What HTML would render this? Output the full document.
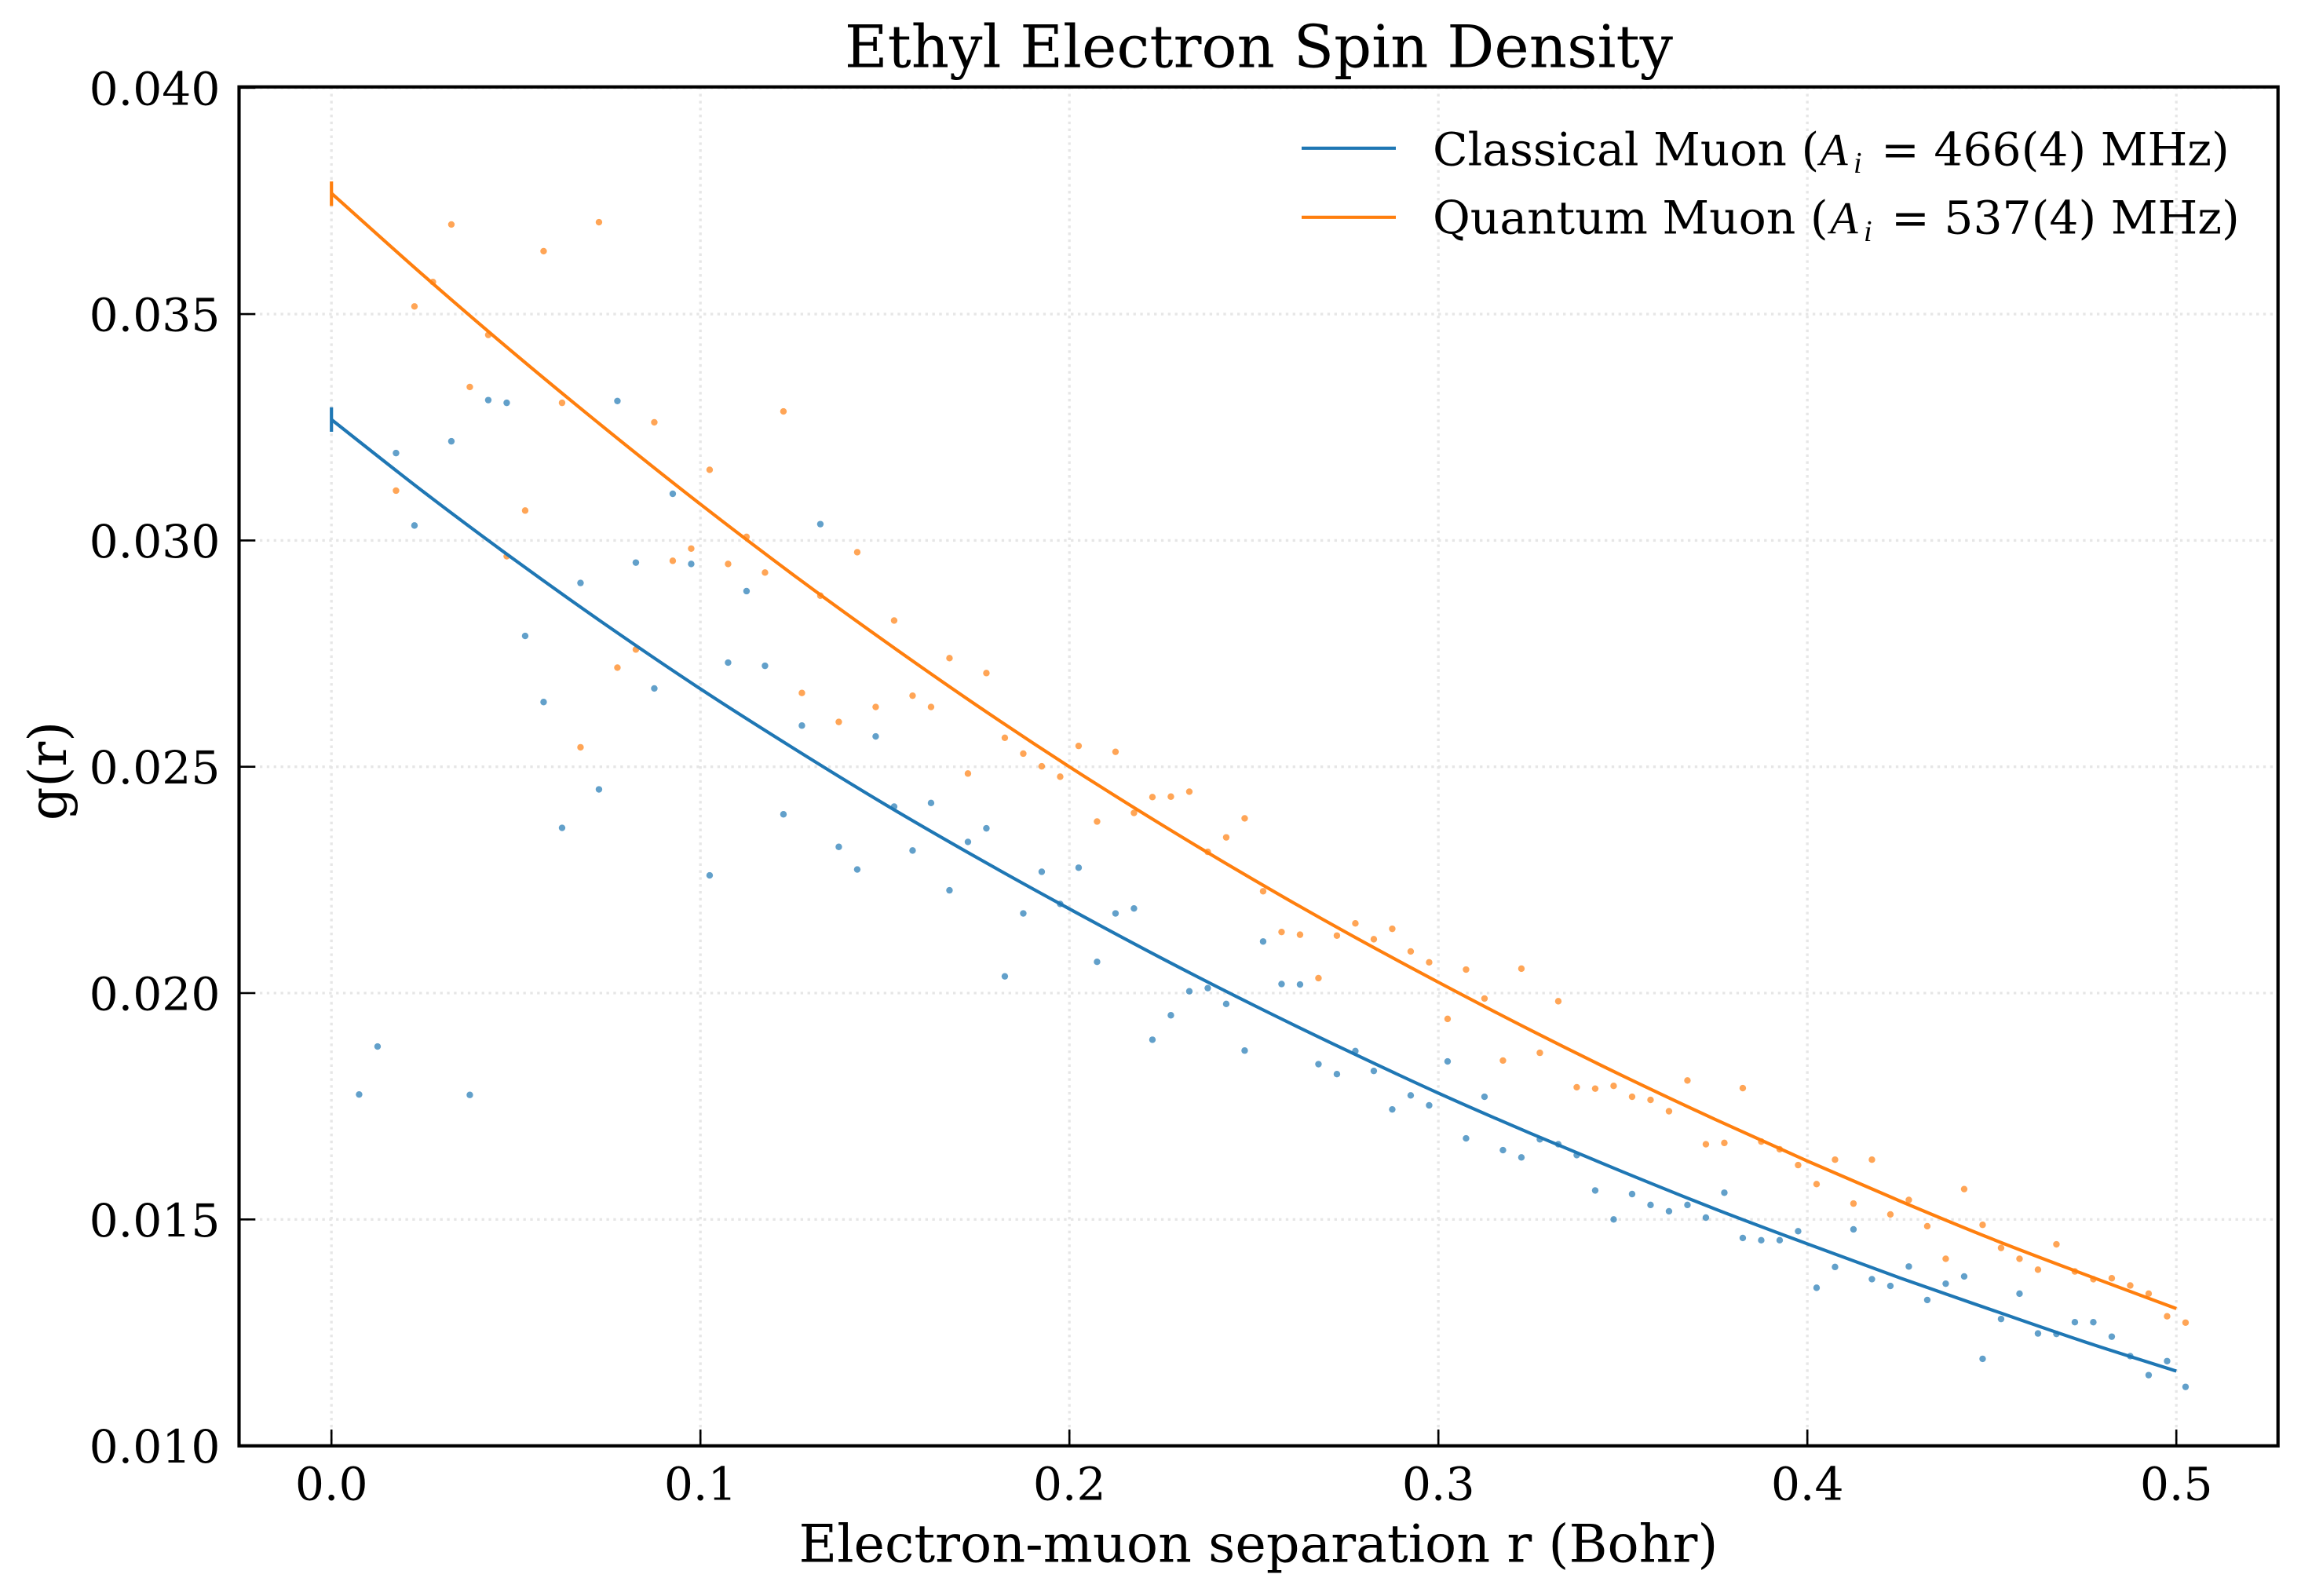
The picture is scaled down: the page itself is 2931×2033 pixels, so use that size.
<!DOCTYPE html>
<html lang="en">
<head>
<meta charset="utf-8">
<title>Ethyl Electron Spin Density</title>
<style>
html,body{margin:0;padding:0;background:#fff;}
svg{display:block;}
text{font-family:"DejaVu Serif","Liberation Serif",serif;fill:#000;}
.math{font-family:"Liberation Serif","DejaVu Serif",serif;font-style:italic;}
</style>
</head>
<body>
<svg id="chart" xmlns="http://www.w3.org/2000/svg" width="2931" height="2033" viewBox="0 0 2931 2033">
  <rect x="0" y="0" width="2931" height="2033" fill="#ffffff"/>
  <g id="grid"></g>
  <g id="points"></g>
  <g id="curves"></g>
  <g id="ticks"></g>
  <rect x="304.5" y="110.7" width="2597.2" height="1731" fill="none" stroke="#000" stroke-width="4.17"/>
  <text x="1603.5" y="85.7" font-size="75" text-anchor="middle">Ethyl Electron Spin Density</text>
  <text x="1603" y="1989.3" font-size="66.7" text-anchor="middle">Electron-muon separation r (Bohr)</text>
  <text transform="translate(84,982) rotate(-90)" font-size="66.7" text-anchor="middle">g(r)</text>
  <g>
    <g>
      <line x1="1658" x2="1778" y1="188.8" y2="188.8" stroke="#1f77b4" stroke-width="4.17"/>
      <text y="210.7" font-size="58.3"><tspan x="1825">Classical Muon (</tspan><tspan class="math" x="2318">A</tspan><tspan class="math" x="2361" y="220" font-size="38">i</tspan><tspan x="2396" y="210.7">= 466(4) MHz)</tspan></text>
    </g>
    <g>
      <line x1="1658" x2="1778" y1="276.8" y2="276.8" stroke="#ff7f0e" stroke-width="4.17"/>
      <text y="297.7" font-size="58.3"><tspan x="1825">Quantum Muon (</tspan><tspan class="math" x="2331">A</tspan><tspan class="math" x="2374" y="307" font-size="38">i</tspan><tspan x="2409" y="297.7">= 537(4) MHz)</tspan></text>
    </g>
  </g>
</svg>
<script>
var xTickValues = [0.0, 0.1, 0.2, 0.3, 0.4, 0.5];
var xTickLabels = ["0.0", "0.1", "0.2", "0.3", "0.4", "0.5"];
var yTickValues = [0.010, 0.015, 0.020, 0.025, 0.030, 0.035, 0.040];
var yTickLabels = ["0.010", "0.015", "0.020", "0.025", "0.030", "0.035", "0.040"];

var classicalR = [0.0075,0.0125,0.0175,0.0225,0.0325,0.0375,0.0425,0.0475,0.0525,0.0575,0.0625,0.0675,0.0725,0.0775,0.0825,0.0875,0.0925,0.0975,0.1025,0.1075,0.1125,0.1175,0.1225,0.1275,0.1325,0.1375,0.1425,0.1475,0.1525,0.1575,0.1625,0.1675,0.1725,0.1775,0.1825,0.1875,0.1925,0.1975,0.2025,0.2075,0.2125,0.2175,0.2225,0.2275,0.2325,0.2375,0.2425,0.2475,0.2525,0.2575,0.2625,0.2675,0.2725,0.2775,0.2825,0.2875,0.2925,0.2975,0.3025,0.3075,0.3125,0.3175,0.3225,0.3275,0.3325,0.3375,0.3425,0.3475,0.3525,0.3575,0.3625,0.3675,0.3725,0.3775,0.3825,0.3875,0.3925,0.3975,0.4025,0.4075,0.4125,0.4175,0.4225,0.4275,0.4325,0.4375,0.4425,0.4475,0.4525,0.4575,0.4625,0.4675,0.4725,0.4775,0.4825,0.4875,0.4925,0.4975,0.5025];
var classicalG = [0.01776,0.01882,0.03193,0.03033,0.03219,0.01775,0.03310,0.03304,0.02789,0.02643,0.02365,0.02906,0.02450,0.03308,0.02951,0.02673,0.03103,0.02948,0.02260,0.02730,0.02888,0.02723,0.02395,0.02591,0.03036,0.02323,0.02273,0.02567,0.02412,0.02315,0.02420,0.02227,0.02334,0.02364,0.02037,0.02176,0.02268,0.02197,0.02277,0.02069,0.02176,0.02187,0.01897,0.01951,0.02004,0.02011,0.01976,0.01873,0.02114,0.02020,0.02019,0.01843,0.01821,0.01872,0.01828,0.01743,0.01774,0.01752,0.01849,0.01679,0.01771,0.01653,0.01637,0.01677,0.01666,0.01642,0.01564,0.01500,0.01556,0.01532,0.01518,0.01532,0.01504,0.01559,0.01459,0.01454,0.01454,0.01474,0.01349,0.01395,0.01478,0.01368,0.01353,0.01396,0.01322,0.01358,0.01374,0.01192,0.01280,0.01336,0.01248,0.01247,0.01273,0.01273,0.01241,0.01198,0.01156,0.01187,0.01130];

var quantumR = [0.0175,0.0225,0.0275,0.0325,0.0375,0.0425,0.0475,0.0525,0.0575,0.0625,0.0675,0.0725,0.0775,0.0825,0.0875,0.0925,0.0975,0.1025,0.1075,0.1125,0.1175,0.1225,0.1275,0.1325,0.1375,0.1425,0.1475,0.1525,0.1575,0.1625,0.1675,0.1725,0.1775,0.1825,0.1875,0.1925,0.1975,0.2025,0.2075,0.2125,0.2175,0.2225,0.2275,0.2325,0.2375,0.2425,0.2475,0.2525,0.2575,0.2625,0.2675,0.2725,0.2775,0.2825,0.2875,0.2925,0.2975,0.3025,0.3075,0.3125,0.3175,0.3225,0.3275,0.3325,0.3375,0.3425,0.3475,0.3525,0.3575,0.3625,0.3675,0.3725,0.3775,0.3825,0.3875,0.3925,0.3975,0.4025,0.4075,0.4125,0.4175,0.4225,0.4275,0.4325,0.4375,0.4425,0.4475,0.4525,0.4575,0.4625,0.4675,0.4725,0.4775,0.4825,0.4875,0.4925,0.4975,0.5025];
var quantumG = [0.03110,0.03517,0.03571,0.03698,0.03339,0.03454,0.02965,0.03066,0.03639,0.03304,0.02543,0.03703,0.02719,0.02759,0.03261,0.02955,0.02982,0.03156,0.02948,0.03008,0.02929,0.03285,0.02663,0.02878,0.02599,0.02974,0.02632,0.02823,0.02657,0.02632,0.02740,0.02485,0.02707,0.02564,0.02529,0.02501,0.02478,0.02546,0.02379,0.02533,0.02398,0.02433,0.02434,0.02445,0.02312,0.02344,0.02386,0.02225,0.02135,0.02129,0.02033,0.02127,0.02154,0.02119,0.02142,0.02092,0.02068,0.01943,0.02052,0.01988,0.01851,0.02054,0.01868,0.01982,0.01792,0.01789,0.01795,0.01771,0.01764,0.01739,0.01807,0.01666,0.01669,0.01790,0.01672,0.01655,0.01620,0.01578,0.01632,0.01535,0.01632,0.01511,0.01543,0.01485,0.01413,0.01567,0.01488,0.01437,0.01413,0.01389,0.01445,0.01385,0.01368,0.01370,0.01354,0.01336,0.01286,0.01272];

var curveR = [0,0.025,0.05,0.075,0.1,0.125,0.15,0.175,0.2,0.225,0.25,0.275,0.3,0.325,0.35,0.375,0.4,0.425,0.45,0.475,0.5];
var classicalCurve = [0.03267,0.03107,0.02955,0.02810,0.02672,0.02542,0.02417,0.02299,0.02186,0.02077,0.01973,0.01874,0.01779,0.01690,0.01605,0.01523,0.01446,0.01371,0.01300,0.01230,0.01165];
var quantumCurve = [0.03767,0.03585,0.03410,0.03242,0.03080,0.02925,0.02777,0.02635,0.02500,0.02372,0.02250,0.02134,0.02024,0.01918,0.01817,0.01721,0.01629,0.01541,0.01457,0.01379,0.01303];

var errorBarR = [0, 0];
var errorBarLow = [0.03240, 0.03739];
var errorBarHigh = [0.03294, 0.03793];

var SVGNS = "http://www.w3.org/2000/svg";
var BLUE = "#1f77b4";
var ORANGE = "#ff7f0e";

function xScale(v) { return 422.2 + v * 4700; }
function yScale(v) { return 1841.6 - (v - 0.010) * 57660; }

function make(tag, attrs, parent) {
  var el = document.createElementNS(SVGNS, tag);
  for (var k in attrs) { el.setAttribute(k, attrs[k]); }
  parent.appendChild(el);
  return el;
}

var gridLayer = document.getElementById("grid");
var pointLayer = document.getElementById("points");
var curveLayer = document.getElementById("curves");
var tickLayer = document.getElementById("ticks");

xTickValues.forEach(function (v, i) {
  var px = xScale(v);
  var g = make("line", {x1: px, x2: px, y1: 110.7, y2: 1841.7, stroke: "#e6e6e6", "stroke-width": 3.33, "stroke-dasharray": "3.33 5.5"}, gridLayer);
  
  
  var t = make("line", {x1: px, x2: px, y1: 1841.7, y2: 1820.9, stroke: "#000", "stroke-width": 2.6}, tickLayer);
  
  
  var l = make("text", {x: px, y: 1910.7, "font-size": 58.3, "text-anchor": "middle"}, tickLayer);
  l.textContent = xTickLabels[i];
  
  
});

yTickValues.forEach(function (v, i) {
  var py = yScale(v);
  var g = make("line", {x1: 304.5, x2: 2901.7, y1: py, y2: py, stroke: "#e6e6e6", "stroke-width": 3.33, "stroke-dasharray": "3.33 5.5"}, gridLayer);
  
  
  var t = make("line", {x1: 304.5, x2: 325.3, y1: py, y2: py, stroke: "#000", "stroke-width": 2.6}, tickLayer);
  
  
  var l = make("text", {x: 280.5, y: py + 21.5, "font-size": 58.3, "text-anchor": "end"}, tickLayer);
  l.textContent = yTickLabels[i];
  
  
});

function drawPoints(rs, gs, color, name) {
  rs.forEach(function (r, i) {
    var c = make("circle", {cx: xScale(r), cy: yScale(gs[i]), r: 4.2, fill: color, "fill-opacity": 0.7}, pointLayer);
    
    
  });
}
drawPoints(classicalR, classicalG, BLUE, 'classical-point');
drawPoints(quantumR, quantumG, ORANGE, 'quantum-point');

function smoothPath(rs, gs) {
  var pts = rs.map(function (r, i) { return [xScale(r), yScale(gs[i])]; });
  var d = "M" + pts[0][0] + " " + pts[0][1];
  for (var i = 0; i < pts.length - 1; i++) {
    var p0 = pts[Math.max(i - 1, 0)], p1 = pts[i], p2 = pts[i + 1], p3 = pts[Math.min(i + 2, pts.length - 1)];
    d += " C" + (p1[0] + (p2[0] - p0[0]) / 6) + " " + (p1[1] + (p2[1] - p0[1]) / 6) + " " +
         (p2[0] - (p3[0] - p1[0]) / 6) + " " + (p2[1] - (p3[1] - p1[1]) / 6) + " " + p2[0] + " " + p2[1];
  }
  return d;
}

var classicalLine = make("path", {d: smoothPath(curveR, classicalCurve), fill: "none", stroke: BLUE, "stroke-width": 4.17}, curveLayer);


var quantumLine = make("path", {d: smoothPath(curveR, quantumCurve), fill: "none", stroke: ORANGE, "stroke-width": 4.17}, curveLayer);



var classicalErr = make("line", {x1: xScale(errorBarR[0]), x2: xScale(errorBarR[0]), y1: yScale(errorBarLow[0]), y2: yScale(errorBarHigh[0]), stroke: BLUE, "stroke-width": 4.17}, curveLayer);


var quantumErr = make("line", {x1: xScale(errorBarR[1]), x2: xScale(errorBarR[1]), y1: yScale(errorBarLow[1]), y2: yScale(errorBarHigh[1]), stroke: ORANGE, "stroke-width": 4.17}, curveLayer);


</script>
</body>
</html>
